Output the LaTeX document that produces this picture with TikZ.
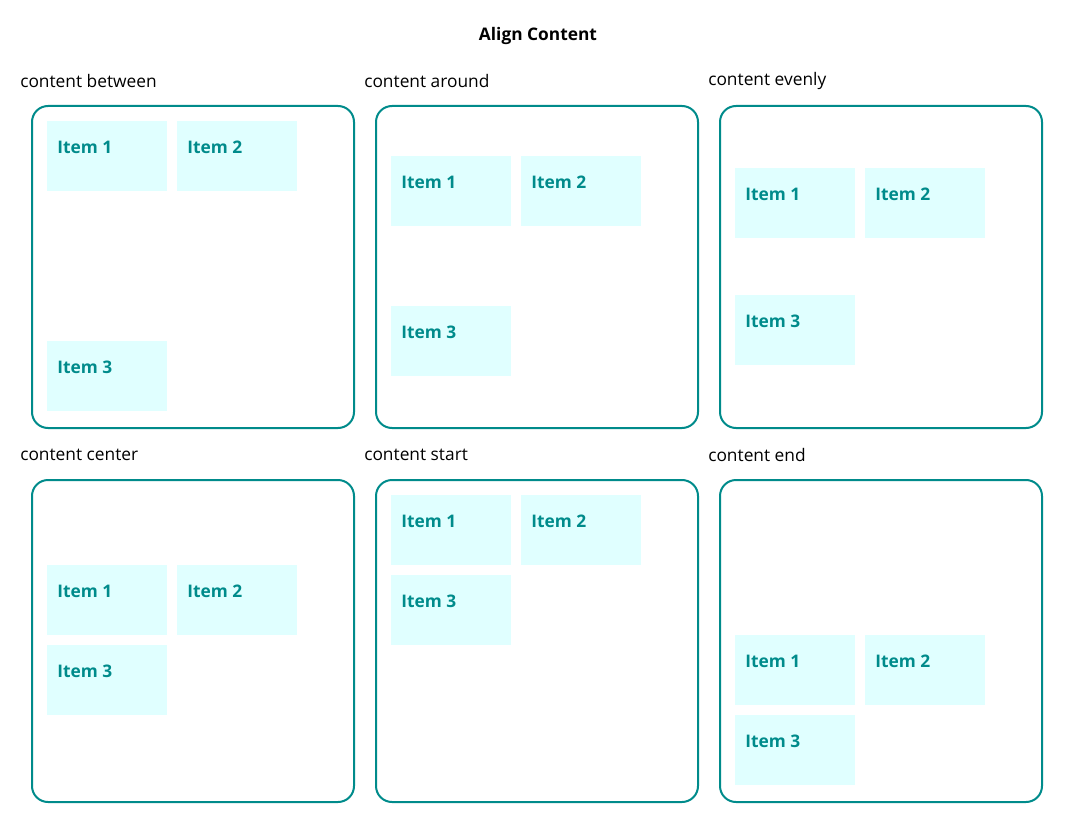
\documentclass[tikz,border=0pt]{standalone}
\usepackage{fontspec}
\setmainfont{Open Sans}
\definecolor{teal1}{HTML}{008B8B}
\definecolor{cyanl}{HTML}{E0FFFF}
\newcommand\myitem[4]{%
  \node[itembox] (#1) at (#2,#3) {};
  \node[itemtext] (#1t) at ([xshift=7.5pt,yshift=-19.5pt]#1.north west) {#4};
}
\newcommand\mypanel[4]{%
  \node[panel] (#1) at (#2,#3) {};
  \node[paneltitle] (#1l) at ([xshift=-8.25pt,yshift=18pt]#1.north west) {#4};
}
\begin{document}
\begin{tikzpicture}[x=0.75pt,y=-0.75pt,
  panel/.style={draw=teal1,line width=1.5pt,rounded corners=12pt,minimum width=241.5pt,minimum height=241.5pt,anchor=north west,inner sep=0pt},
  paneltitle/.style={anchor=west,inner sep=0pt,font=\fontsize{13}{15}\selectfont,text=black},
  itembox/.style={fill=cyanl,minimum width=90pt,minimum height=52.5pt,anchor=north west,inner sep=0pt},
  itemtext/.style={anchor=west,inner sep=0pt,font=\bfseries\fontsize{13}{15}\selectfont,text=teal1}]
\useasboundingbox (0,0) rectangle (1074,831);
\node[font=\bfseries\fontsize{13}{15}\selectfont] (title) at (538,36) {Align Content};
\mypanel{p1}{31}{105}{content between}
\mypanel{p2}{375}{105}{content around}
\mypanel{p3}{719}{105}{content evenly}
\mypanel{p4}{31}{479}{content center}
\mypanel{p5}{375}{479}{content start}
\mypanel{p6}{719}{479}{content end}
% between
\myitem{a1}{47}{121}{Item 1}
\myitem{a2}{177}{121}{Item 2}
\myitem{a3}{47}{341}{Item 3}
% around
\myitem{b1}{391}{156}{Item 1}
\myitem{b2}{521}{156}{Item 2}
\myitem{b3}{391}{306}{Item 3}
% evenly
\myitem{c1}{735}{168}{Item 1}
\myitem{c2}{865}{168}{Item 2}
\myitem{c3}{735}{295}{Item 3}
% center
\myitem{d1}{47}{565}{Item 1}
\myitem{d2}{177}{565}{Item 2}
\myitem{d3}{47}{645}{Item 3}
% start
\myitem{e1}{391}{495}{Item 1}
\myitem{e2}{521}{495}{Item 2}
\myitem{e3}{391}{575}{Item 3}
% end
\myitem{f1}{735}{635}{Item 1}
\myitem{f2}{865}{635}{Item 2}
\myitem{f3}{735}{715}{Item 3}
\end{tikzpicture}
\end{document}
